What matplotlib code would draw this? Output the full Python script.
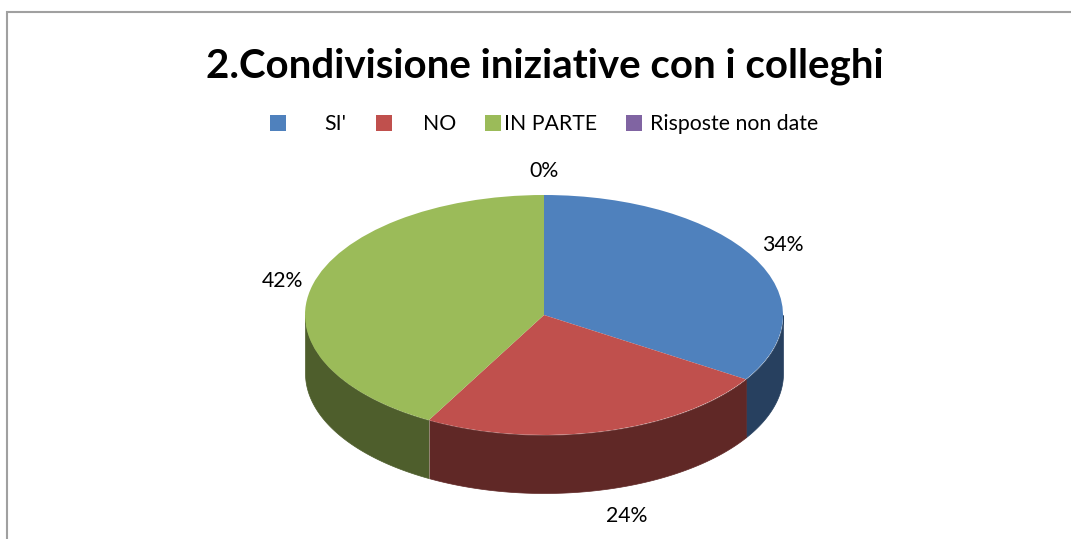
import numpy as np
import matplotlib
matplotlib.use('Agg')
import matplotlib.pyplot as plt
from matplotlib.patches import Rectangle

# dati del grafico
categorie = ["SI'", 'NO', 'IN PARTE', 'Risposte non date']
valori = [34, 24, 42, 0]
etichette = ['34%', '24%', '42%', '0%']
titolo = '2.Condivisione iniziative con i colleghi'

colori = ['#4F81BD', '#C0504D', '#9BBB59', '#8064A2']
colori_lato = ['#27405F', '#602826', '#4E5E2C', '#403251']

W, H = 1071, 539
CX, CY = 544, 315      # centro della torta (pixel)
RX, RY = 239, 120      # semiassi
DEPTH = 58 / RY        # spessore in unita' dati

plt.rcParams['font.family'] = ['Lato', 'DejaVu Sans']

fig = plt.figure(figsize=(W / 100, H / 100), dpi=100, facecolor='white')

# assi a tutta figura in pixel per cornice, titolo e legenda
bg = fig.add_axes([0, 0, 1, 1])
bg.set_xlim(0, W)
bg.set_ylim(H, 0)
bg.axis('off')
# cornice: a destra e in basso esce dall'immagine
bg.plot([7, 7, W + 5], [H + 5, 12, 12], color='#A0A0A0', lw=1.5, solid_joinstyle='miter')

bg.text(545, 66, titolo, ha='center', va='center', fontsize=29, fontweight='bold', color='black')

leg_x = [270, 376, 485, 626]
txt_x = [335, 440, 551, 734]
for x, tx, col, cat in zip(leg_x, txt_x, colori, categorie):
    bg.add_patch(Rectangle((x, 115), 16, 16, fc=col, ec='none'))
    bg.text(tx, 124, cat, ha='center', va='center', fontsize=15.3, color='black')

# assi della torta: 1 unita' = RX pixel in x, RY pixel in y
ax = fig.add_axes([(CX - RX * 1.0) / W, (H - CY - RY * 1.6) / H, 2 * RX / W, 2.6 * RY / H])
ax.set_xlim(-1, 1)
ax.set_ylim(-1.6, 1.0)
ax.axis('off')
ax.patch.set_visible(False)

# lati della torta, solo la parte frontale dell'arco
frazioni = np.cumsum([0] + valori) / sum(valori)
ang = np.pi / 2 - 2 * np.pi * frazioni
for i in range(len(valori)):
    t = np.linspace(ang[i], ang[i + 1], 300)
    t = t[np.sin(t) <= 0]
    if len(t) == 0 or valori[i] == 0:
        continue
    ax.fill_between(np.cos(t), np.sin(t), np.sin(t) - DEPTH, color=colori_lato[i], lw=0.5, clip_on=False)

# spigolo chiaro tra i lati verde e rosso
xs, ys = np.cos(ang[2]), np.sin(ang[2])
ax.plot([xs, xs], [ys, ys - DEPTH], color='#A08C80', lw=0.6, zorder=5)

# faccia superiore
ax.pie(valori, colors=colori, startangle=90, counterclock=False, radius=1,
       wedgeprops={'linewidth': 0})
ax.set_aspect('auto')
ax.set_xlim(-1, 1)
ax.set_ylim(-1.6, 1.0)

# etichette percentuali
lab_x = [783, 627, 282, 544]
lab_y = [245, 516, 281, 171]
for x, y, s in zip(lab_x, lab_y, etichette):
    bg.text(x, y, s, ha='center', va='center', fontsize=15.3, color='black', zorder=10)

fig.savefig('out.png', dpi=100)
